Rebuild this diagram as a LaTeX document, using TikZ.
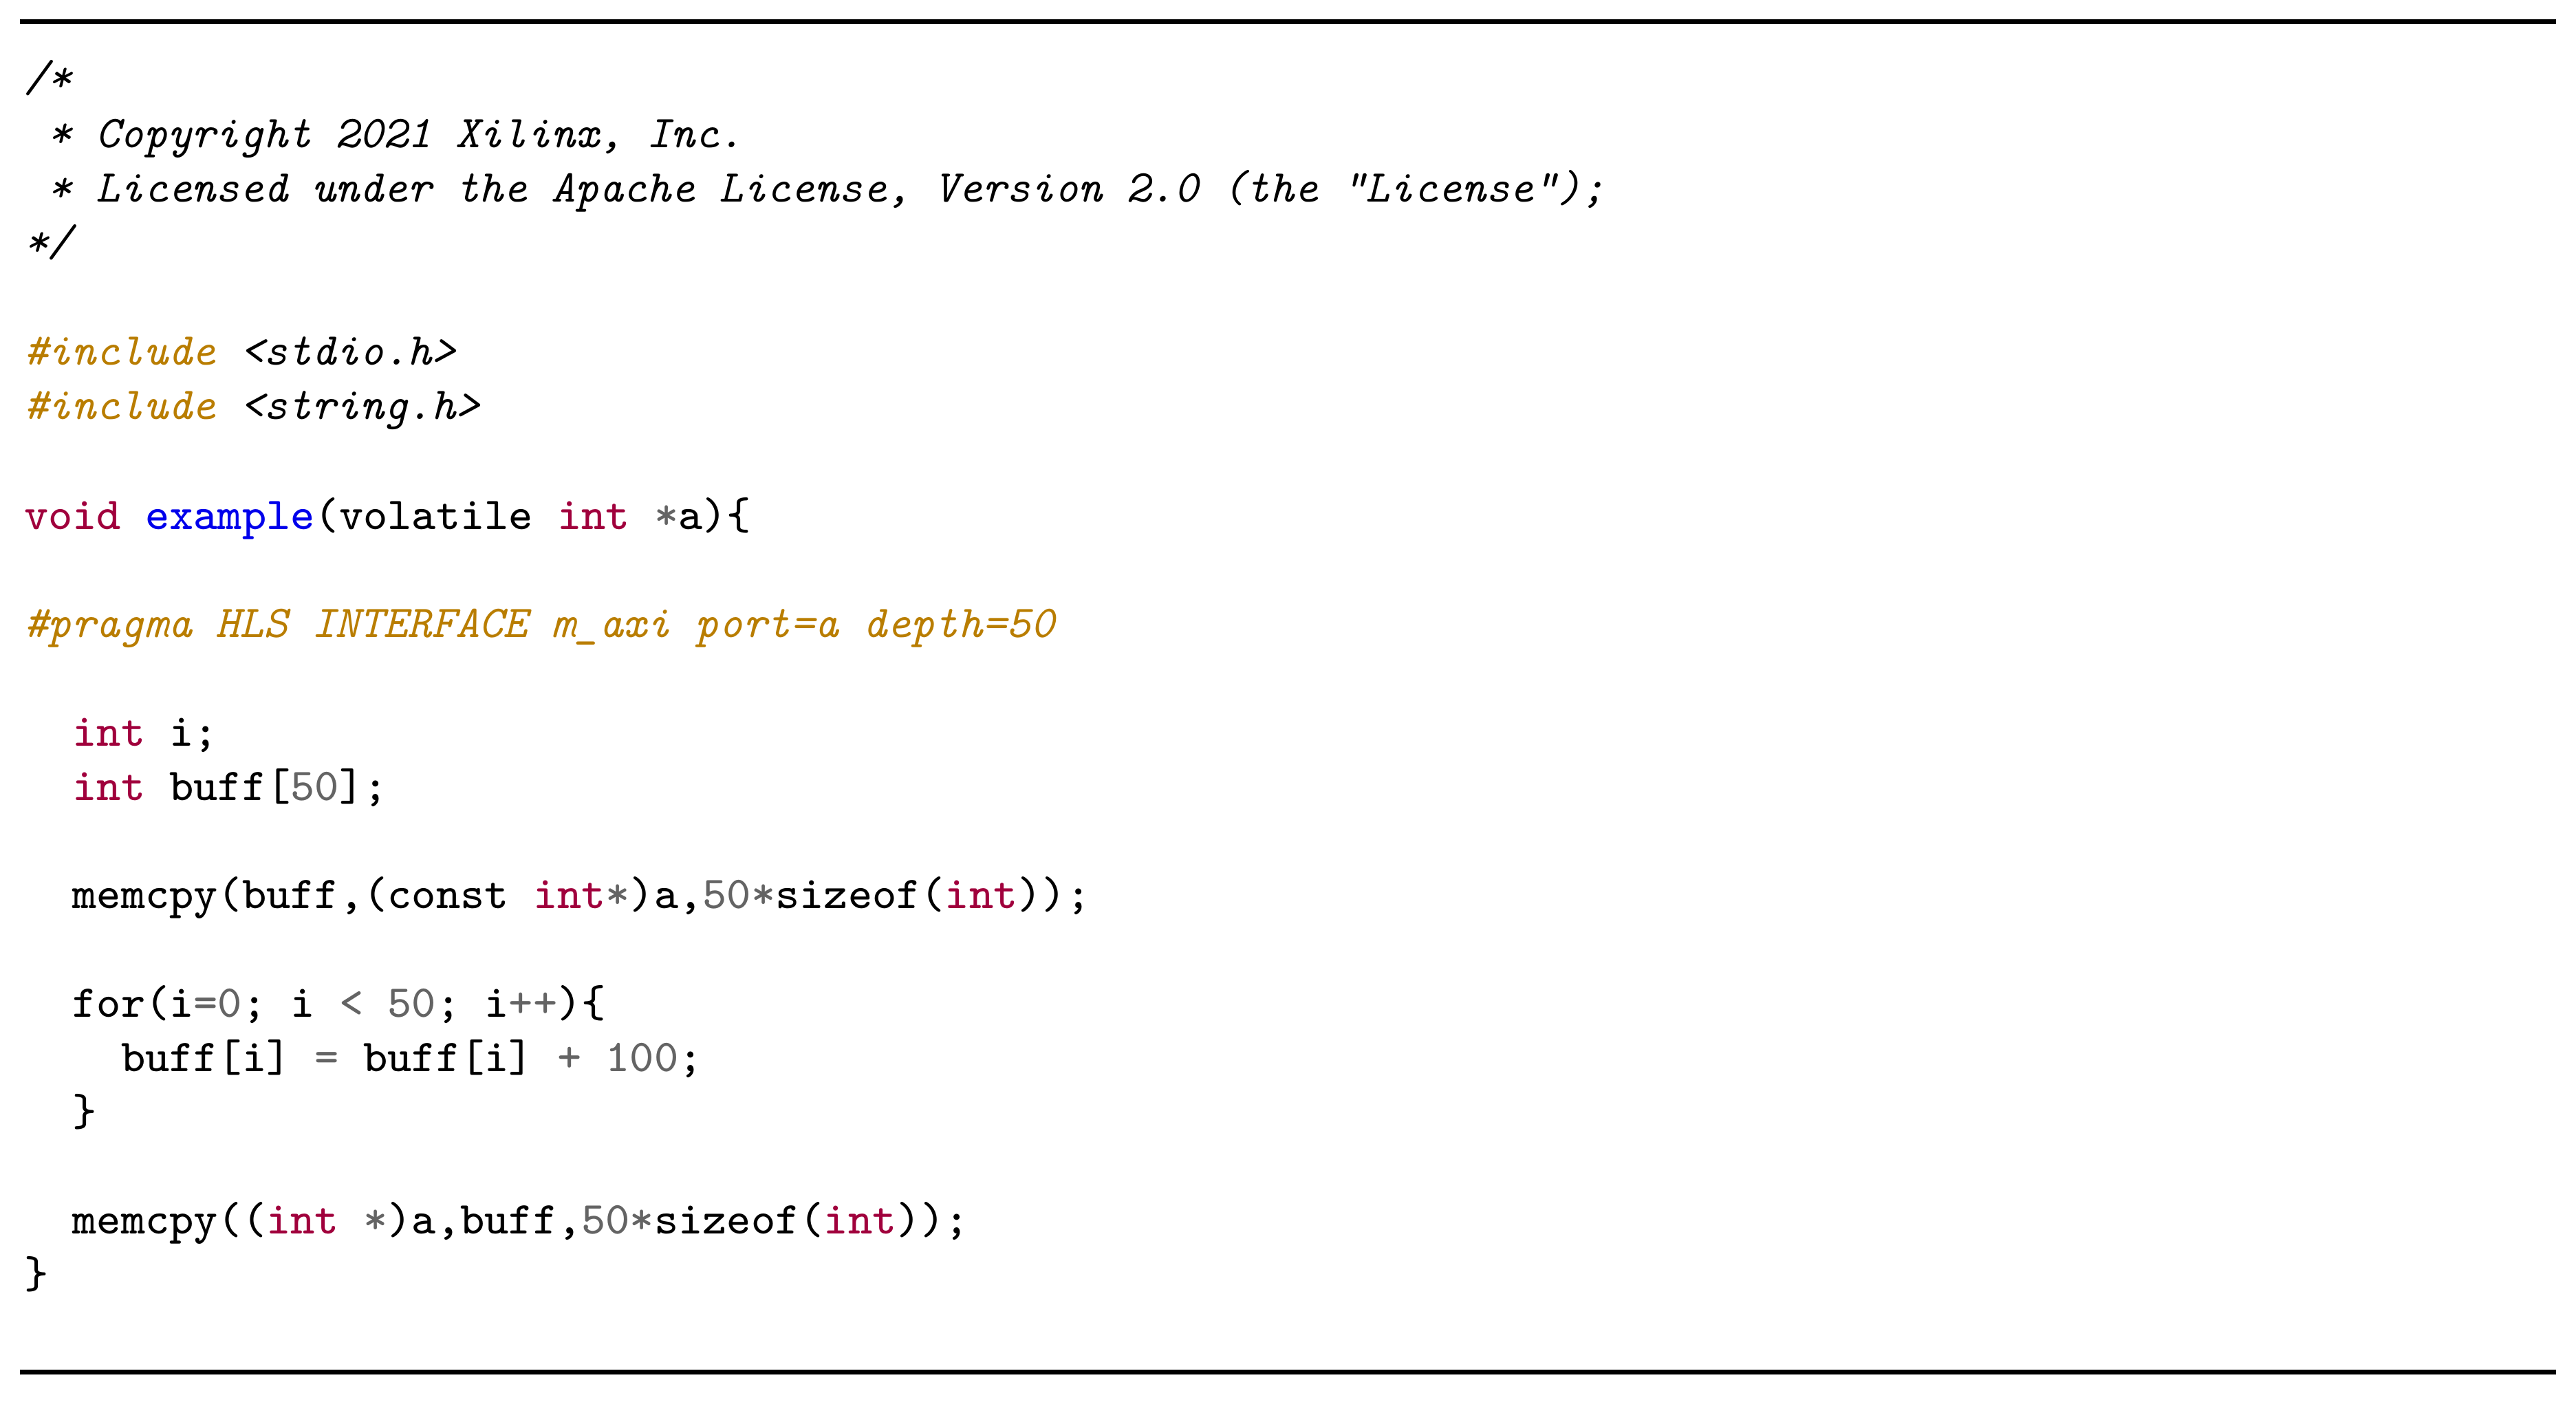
\documentclass[tikz,border=0pt]{standalone}
\usepackage{fontspec}
\usepackage{xcolor}
\definecolor{kw}{RGB}{160,0,60}
\definecolor{fn}{RGB}{0,0,235}
\definecolor{num}{RGB}{100,100,100}
\definecolor{pp}{RGB}{185,125,0}
\newcommand{\Kw}[1]{\textcolor{kw}{#1}}
\newcommand{\Fn}[1]{\textcolor{fn}{#1}}
\newcommand{\Nm}[1]{\textcolor{num}{#1}}
\newcommand{\Pp}[1]{\textcolor{pp}{\itshape #1}}
\begin{document}
\begin{tikzpicture}[x=0.01cm,y=-0.01cm,
  codeline/.style={anchor=base west,inner sep=0pt,font=\ttfamily\fontsize{7.9}{9.4}\selectfont},
  rulestyle/.style={line width=0.85pt}]
\useasboundingbox (0,0) rectangle (1568,853);
\coordinate (r1a) at (12,13); \coordinate (r1b) at (1556,13);
\coordinate (r2a) at (12,835); \coordinate (r2b) at (1556,835);
\draw[rulestyle] (r1a) -- (r1b);
\draw[rulestyle] (r2a) -- (r2b);
\node[codeline] (l1) at (14,56) {\itshape /*};
\node[codeline] (l2) at (14,90) {\itshape\ * Copyright 2021 Xilinx, Inc.};
\node[codeline] (l3) at (14,123) {\itshape\ * Licensed under the Apache License, Version 2.0 (the "License");};
\node[codeline] (l4) at (14,156) {\itshape */};
\node[codeline] (l5) at (14,222) {\Pp{\#include} {\itshape <stdio.h>}};
\node[codeline] (l6) at (14,255) {\Pp{\#include} {\itshape <string.h>}};
\node[codeline] (l7) at (14,322) {\Kw{void} \Fn{example}(volatile \Kw{int} \Nm{*}a)\{};
\node[codeline] (l8) at (14,388) {\Pp{\#pragma HLS INTERFACE m\_axi port=a depth=50}};
\node[codeline] (l9) at (14,454) {\ \ \Kw{int} i;};
\node[codeline] (l10) at (14,487) {\ \ \Kw{int} buff[\Nm{50}];};
\node[codeline] (l11) at (14,553) {\ \ memcpy(buff,(const \Kw{int}\Nm{*})a,\Nm{50*}sizeof(\Kw{int}));};
\node[codeline] (l12) at (14,619) {\ \ for(i\Nm{=0}; i \Nm{<} \Nm{50}; i\Nm{++})\{};
\node[codeline] (l13) at (14,652) {\ \ \ \ buff[i] \Nm{=} buff[i] \Nm{+} \Nm{100};};
\node[codeline] (l14) at (14,685) {\ \ \}};
\node[codeline] (l15) at (14,751) {\ \ memcpy((\Kw{int} \Nm{*})a,buff,\Nm{50*}sizeof(\Kw{int}));};
\node[codeline] (l16) at (14,784) {\}};
\end{tikzpicture}
\end{document}
